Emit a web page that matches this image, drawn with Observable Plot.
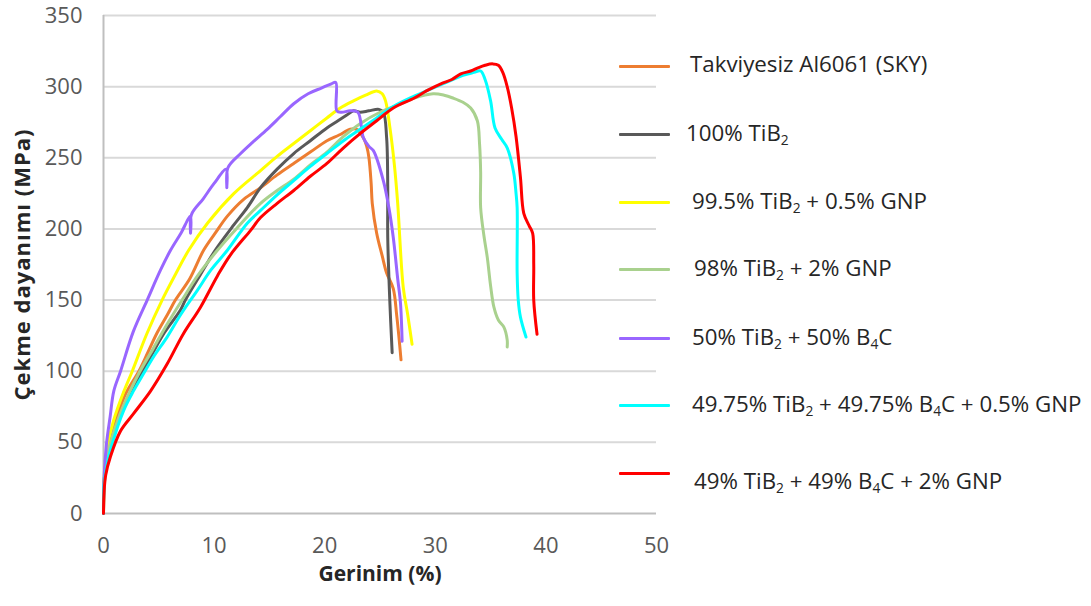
<!DOCTYPE html>
<html>
<head>
<meta charset="utf-8">
<script src="https://cdn.jsdelivr.net/npm/d3@7"></script>
<script src="https://cdn.jsdelivr.net/npm/@observablehq/plot@0.6"></script>
<style>
  body { margin: 0; background: #fff; }
  #wrap { position: relative; width: 1091px; height: 606px; font-family: "Open Sans", sans-serif; }
  .sw { position: absolute; left: 619px; width: 51px; height: 3px; border-radius: 1px; }
  .lb { position: absolute; font-size: 22.3px; line-height: 26px; color: #262626; white-space: nowrap; }
  .lb sub { font-size: 0.62em; vertical-align: -0.3em; line-height: 0; }
</style>
</head>
<body>
<div id="wrap"></div>
<script>
// Series names (legend text, HTML subscripts) and colours
const seriesNames = [
  "Takviyesiz Al6061 (SKY)",
  "100% TiB<sub>2</sub>",
  "99.5% TiB<sub>2</sub> + 0.5% GNP",
  "98% TiB<sub>2</sub> + 2% GNP",
  "50% TiB<sub>2</sub> + 50% B<sub>4</sub>C",
  "49.75% TiB<sub>2</sub> + 49.75% B<sub>4</sub>C + 0.5% GNP",
  "49% TiB<sub>2</sub> + 49% B<sub>4</sub>C + 2% GNP"
];
const seriesColors = ["#ED7D31", "#595959", "#FFFF00", "#A9D18E", "#9966FF", "#00FFFF", "#FF0000"];

// Strain (%) / stress (MPa)
const skyStrain = [0,0.05,0.2,0.5,1.24,2.0,3.2,4.0,4.85,5.8,6.5,7.8,9.05,10.1,11.2,12.7,14.2,15.7,17.2,18.7,20.2,21.3,22.3,22.9,23.5,23.8,24.0,24.2,24.3,24.7,25.2,25.6,26.2,26.5,26.7,26.9];
const skyStress = [0,20,35,49,68,84,100,113,127,140,150,165,185,197,209,221,229,238,246,254,262,266,270,270,264,258,250,232,218,197,181,169,158,140,125,108];

const tib2Strain = [0,0.05,0.2,0.6,1.8,2.5,3.5,4.25,5.5,6.96,7.4,8.77,10.1,11.8,13.0,14.2,15.7,17.2,18.7,20.2,21.2,22.0,22.6,23.2,24.0,24.9,25.3,25.6,25.7,25.7,25.9,26.1];
const tib2Stress = [0,20,35,49,74,86,100,110,127,143,150,168,185,203,215,229,242,253,262,271,276,280,283,282,283,284,282,264,230,194,147,113];

const gnp05Strain = [0,0.05,0.15,0.4,0.9,1.8,2.6,3.9,5.3,6.5,7.7,9.4,11.8,14.2,15.7,17.2,18.7,20.2,21.4,22.6,23.7,24.7,25.2,25.5,25.9,26.3,26.6,27.1,27.5,27.9];
const gnp05Stress = [0,22,35,49,65,85,100,126,150,168,185,204,225,241,251,260,269,278,285,290,294,297,295,290,271,245,218,159,140,119];

const gnp2Strain = [0,0.05,0.2,0.6,1.5,2.4,3.3,4.5,5.75,7.1,8.5,10.3,12.0,14.2,15.7,17.2,18.7,20.2,21.7,23.2,25.0,26.6,28.1,29.8,30.8,31.6,32.5,33.2,33.8,34.0,34.1,34.1,34.4,34.7,35.0,35.3,35.7,36.2,36.5,36.5];
const gnp2Stress = [0,20,35,49,70,86,100,116,133,150,167,185,200,218,227,235,245,254,265,274,282,287,292,295,294,292,289,285,276,260,240,215,195,180,160,145,136,131,122,117];

const b4cStrain = [0,0.05,0.27,0.6,0.93,1.54,2.7,3.95,5.15,6.06,7.0,7.87,7.87,7.95,9.0,10.0,11.1,11.15,11.25,12.4,13.5,14.8,16.0,17.2,18.5,19.7,20.6,21.0,21.1,21.5,22.3,23.0,23.5,24.0,24.4,25.3,25.8,26.2,26.6,26.85,27.0];
const b4cStress = [0,25,49,68,86,100,128,150,171,185,197,209,197,210,221,232,242,229,243,253,261,270,279,288,295,299,302,303,283,282,283,282,264,258,255,234,215,194,165,148,121];

const b4cGnp05Strain = [0,0.05,0.33,0.79,1.8,2.7,3.6,4.6,5.75,7.0,8.5,9.7,11.2,13.0,14.2,15.7,17.2,18.7,20.2,21.7,23.2,24.7,26.2,28.0,29.5,31.0,32.5,33.5,34.1,34.5,35.0,35.4,36.0,36.5,37.1,37.3,37.4,37.4,37.5,37.7,38.2];
const b4cGnp05Stress = [0,20,35,49,72,86,98,111,124,140,157,171,185,204,213,224,234,244,253,262,270,278,286,293,298,303,308,310,311,305,290,271,263,257,239,225,215,169,150,138,124];

const b4cGnp2Strain = [0,0.05,0.2,0.63,1.54,2.7,4.25,5.75,7.2,8.77,10.3,11.5,13.3,14.2,15.7,17.2,18.7,20.2,21.7,23.2,24.7,26.2,28.1,29.2,30.5,31.5,32.3,33.2,33.8,34.5,35.2,35.7,36.1,36.5,36.9,37.3,37.7,38.0,38.5,38.8,38.9,38.9,39.2];
const b4cGnp2Stress = [0,15,27,40,58,70,86,105,126,145,167,182,199,208,218,227,237,246,257,267,276,285,292,297,302,305,309,311,313,315,316,315,310,300,285,265,236,211,202,197,175,150,126];

const xTicks = [0, 10, 20, 30, 40, 50];
const yTicks = [0, 50, 100, 150, 200, 250, 300, 350];
const xTitle = "Gerinim (%)";
const yTitle = "Çekme dayanımı (MPa)";

const strains = [skyStrain, tib2Strain, gnp05Strain, gnp2Strain, b4cStrain, b4cGnp05Strain, b4cGnp2Strain];
const stresses = [skyStress, tib2Stress, gnp05Stress, gnp2Stress, b4cStress, b4cGnp05Stress, b4cGnp2Stress];
const data = [];
strains.forEach((xs, i) => xs.forEach((x, j) => data.push({series: seriesNames[i], strain: x, stress: stresses[i][j]})));

const chart = Plot.plot({
  width: 1091,
  height: 606,
  marginLeft: 103,
  marginRight: 435,
  marginTop: 15,
  marginBottom: 93,
  style: {fontFamily: "Open Sans, sans-serif", fontSize: "22px", color: "#595959", background: "#fff", overflow: "visible"},
  x: {domain: [0, 50]},
  y: {domain: [0, 350]},
  color: {domain: seriesNames, range: seriesColors},
  marks: [
    Plot.ruleY(yTicks.filter(d => d > 0), {stroke: "#D9D9D9", strokeWidth: 2}),
    Plot.ruleX([0], {stroke: "#BFBFBF", strokeWidth: 2}),
    Plot.ruleY([0], {stroke: "#BFBFBF", strokeWidth: 2}),
    Plot.axisX({ticks: xTicks, tickSize: 0, tickPadding: 24, label: null, fill: "#595959"}),
    Plot.axisY({ticks: yTicks, tickSize: 0, tickPadding: 21, label: null, fill: "#595959"}),
    Plot.line(data, {x: "strain", y: "stress", z: "series", stroke: "series", strokeWidth: 3, curve: "catmull-rom", strokeLinejoin: "round", strokeLinecap: "round"}),
    Plot.text([xTitle], {frameAnchor: "bottom", dy: 67, text: d => d, textAnchor: "middle", fontWeight: "bold", fontSize: 21, fill: "#262626"}),
    Plot.text([yTitle], {frameAnchor: "left", dx: -81, rotate: -90, text: d => d, textAnchor: "middle", fontWeight: "bold", fontSize: 22, fill: "#262626"})
  ]
});

const wrap = document.getElementById("wrap");
wrap.appendChild(chart);
d3.select(chart).selectAll("text").filter(function() { return this.textContent === yTitle; }).attr("letter-spacing", "1px");

// Legend (HTML, for subscripts)
const swatchY = [66, 134, 202, 269, 338, 405, 473];
const labelX = [690, 686, 692, 694, 692, 692, 694];
const labelY = [65, 134, 202, 269, 338, 405, 482];
seriesNames.forEach((name, i) => {
  const sw = document.createElement("div");
  sw.className = "sw";
  sw.style.top = (swatchY[i] - 1.5) + "px";
  sw.style.background = seriesColors[i];
  wrap.appendChild(sw);
  const lb = document.createElement("div");
  lb.className = "lb";
  lb.style.left = labelX[i] + "px";
  lb.style.top = (labelY[i] - 14) + "px";
  lb.innerHTML = name;
  wrap.appendChild(lb);
});
</script>
</body>
</html>
